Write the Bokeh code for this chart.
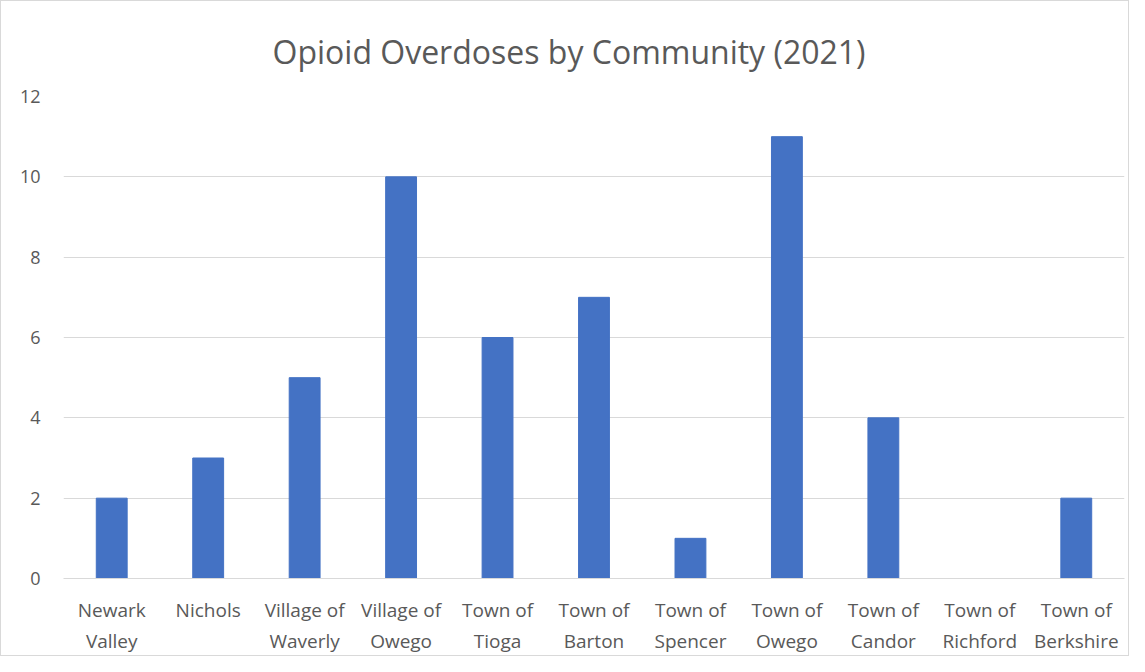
from bokeh.plotting import figure
from bokeh.models import Range1d, FactorRange, FixedTicker
from bokeh.embed import file_html
from bokeh.resources import INLINE

communities = ["Newark\nValley", "Nichols", "Village of\nWaverly", "Village of\nOwego",
               "Town of\nTioga", "Town of\nBarton", "Town of\nSpencer", "Town of\nOwego",
               "Town of\nCandor", "Town of\nRichford", "Town of\nBerkshire"]
overdoses = [2, 3, 5, 10, 6, 7, 1, 11, 4, 0, 2]
y_ticks = [0, 2, 4, 6, 8, 10, 12]

FONT = "Open Sans"
GREY = "#595959"

p = figure(width=1129, height=656, x_range=FactorRange(factors=communities, range_padding=0),
           y_range=Range1d(0, 12), output_backend="svg", toolbar_location=None,
           min_border_left=62, min_border_right=6, min_border_top=95, min_border_bottom=79)

p.title.text = "Opioid Overdoses by Community (2021)"
p.title.align = "left"
p.title.text_font = FONT
p.title.text_font_size = "32px"
p.title.text_font_style = "normal"
p.title.text_color = GREY
p.title.offset = 209
p.title.standoff = 47

p.vbar(x=communities, top=overdoses, width=0.32, color="#4472C4")

p.outline_line_color = None
p.xgrid.grid_line_color = None
p.ygrid.grid_line_color = "#D9D9D9"
p.ygrid.grid_line_width = 1
p.yaxis.ticker = FixedTicker(ticks=y_ticks)
for ax in (p.xaxis[0], p.yaxis[0]):
    ax.major_tick_line_color = None
    ax.minor_tick_line_color = None
    ax.major_label_text_font = FONT
    ax.major_label_text_color = GREY
p.yaxis.major_label_text_font_size = "18px"
p.xaxis.major_label_text_font_size = "19px"
p.yaxis.axis_line_color = None
p.yaxis.major_label_standoff = 17
p.xaxis.axis_line_color = "#D9D9D9"
p.xaxis.major_label_standoff = 12
p.styles = {"border": "1px solid #D9D9D9"}

open("out.html", "w").write(file_html(p, INLINE))
